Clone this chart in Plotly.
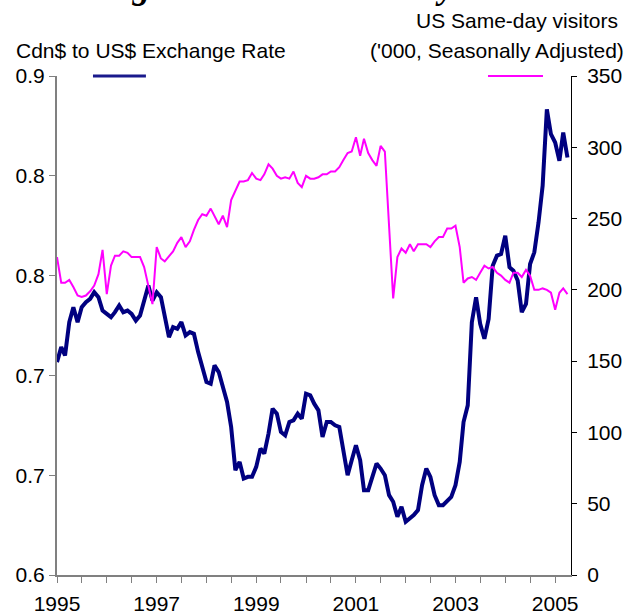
import pandas as pd
import plotly.graph_objects as go

# monthly series, Jan 1995 .. Apr 2005
start_month = "1995-01-01"

exchange_rate = [
    0.728, 0.737, 0.732, 0.752, 0.761, 0.752, 0.761, 0.764, 0.766, 0.770, 0.767, 0.759,
    0.757, 0.755, 0.758, 0.762, 0.758, 0.759, 0.757, 0.753, 0.756, 0.764, 0.774, 0.765,
    0.770, 0.767, 0.755, 0.743, 0.749, 0.748, 0.752, 0.744, 0.746, 0.745, 0.734, 0.725,
    0.716, 0.715, 0.726, 0.722, 0.714, 0.704, 0.689, 0.663, 0.668, 0.658, 0.659, 0.659,
    0.665, 0.676, 0.673, 0.685, 0.700, 0.697, 0.686, 0.684, 0.692, 0.693, 0.697, 0.694,
    0.709, 0.708, 0.703, 0.699, 0.683, 0.692, 0.692, 0.690, 0.689, 0.675, 0.660, 0.669,
    0.678, 0.669, 0.651, 0.651, 0.659, 0.667, 0.664, 0.660, 0.648, 0.644, 0.635, 0.641,
    0.632, 0.634, 0.636, 0.639, 0.654, 0.664, 0.659, 0.648, 0.642, 0.642, 0.645, 0.647,
    0.654, 0.668, 0.692, 0.702, 0.752, 0.767, 0.751, 0.742, 0.754, 0.786, 0.792, 0.793,
    0.804, 0.785, 0.783, 0.777, 0.758, 0.763, 0.787, 0.794, 0.812, 0.834, 0.880, 0.865,
    0.860, 0.849, 0.866, 0.851,
]

visitors = [
    223, 205, 205, 207, 202, 196, 195, 196, 199, 203, 211, 228,
    197, 217, 224, 224, 227, 226, 223, 223, 223, 216, 203, 190,
    230, 222, 220, 224, 227, 233, 237, 230, 234, 242, 249, 253,
    252, 257, 252, 246, 252, 244, 263, 270, 276, 276, 277, 282,
    278, 277, 281, 288, 285, 280, 278, 279, 278, 283, 275, 272,
    280, 278, 278, 279, 281, 281, 283, 283, 286, 291, 296, 297,
    307, 294, 306, 296, 291, 287, 301, 297, 246, 194, 223, 229,
    226, 232, 227, 232, 232, 232, 230, 234, 237, 237, 243, 243,
    245, 230, 205, 208, 209, 207, 212, 217, 215, 216, 212, 210,
    207, 205, 212, 212, 209, 214, 210, 200, 200, 201, 200, 198,
    186, 198, 201, 197,
]

x_tick_years = [1995, 1995.5, 1996, 1996.5, 1997, 1997.5, 1998, 1998.5, 1999, 1999.5,
                2000, 2000.5, 2001, 2001.5, 2002, 2002.5, 2003, 2003.5, 2004, 2004.5, 2005]
x_tick_labels = ["1995", "", "", "", "1997", "", "", "", "1999", "", "",
                 "", "2001", "", "", "", "2003", "", "", "", "2005"]

left_tick_values = [0.6, 0.66, 0.72, 0.78, 0.84, 0.9]
left_tick_labels = ["0.6", "0.7", "0.7", "0.8", "0.8", "0.9"]
right_tick_values = [0, 50, 100, 150, 200, 250, 300, 350]

months = pd.date_range(start_month, periods=len(exchange_rate), freq="MS")
tick_dates = [pd.Timestamp(int(y), 1 if y == int(y) else 7, 1) for y in x_tick_years]

SANS = "Liberation Sans, Arial, sans-serif"
NAVY = "#000080"
MAGENTA = "#FF00FF"

fig = go.Figure()
fig.add_trace(go.Scatter(x=months, y=exchange_rate, mode="lines",
                         line=dict(color=NAVY, width=4), yaxis="y"))
fig.add_trace(go.Scatter(x=months, y=visitors, mode="lines",
                         line=dict(color=MAGENTA, width=2), yaxis="y2"))

fig.update_layout(
    width=633, height=614,
    margin=dict(l=57, r=62, t=76, b=39),
    paper_bgcolor="white", plot_bgcolor="white",
    showlegend=False,
    font=dict(family=SANS, size=21, color="black"),
    xaxis=dict(
        range=["1995-01-01", "2005-04-27"],
        tickvals=tick_dates, ticktext=x_tick_labels,
        ticks="outside", ticklen=6, tickcolor="#808080",
        ticklabelstandoff=3, automargin=False,
        showline=True, linecolor="#808080", linewidth=1.5,
        showgrid=False, zeroline=False,
    ),
    yaxis=dict(
        range=[0.6, 0.9], automargin=False,
        tickvals=left_tick_values, ticktext=left_tick_labels,
        ticks="outside", ticklen=6, tickcolor="#808080",
        showline=True, linecolor="#808080", linewidth=2,
        showgrid=False, zeroline=False,
    ),
    yaxis2=dict(
        range=[0, 350], overlaying="y", side="right", automargin=False,
        tickvals=right_tick_values,
        ticks="outside", ticklen=5, tickcolor="black",
        ticklabelstandoff=6,
        showline=True, linecolor="black", linewidth=1,
        showgrid=False, zeroline=False,
    ),
    yaxis3=dict(
        range=[0, 350], overlaying="y", side="right", automargin=False,
        tickvals=right_tick_values, showticklabels=False,
        ticks="inside", ticklen=5, tickcolor="black",
        showline=False, showgrid=False, zeroline=False,
    ),
)

# legend keys drawn next to the axis titles
fig.add_shape(type="line", xref="paper", yref="paper", x0=0.070, x1=0.173, y0=1.0, y1=1.0,
              line=dict(color="#1a1a8c", width=3))
fig.add_shape(type="line", xref="paper", yref="paper", x0=0.8385, x1=0.9455, y0=1.0, y1=1.0,
              line=dict(color=MAGENTA, width=2))

fig.add_annotation(text="Cdn$ to US$ Exchange Rate", xref="paper", yref="paper",
                   x=-0.084, y=1.052, xanchor="left", yanchor="middle", showarrow=False,
                   font=dict(family=SANS, size=21))
fig.add_annotation(text="('000, Seasonally Adjusted)", xref="paper", yref="paper",
                   x=1.107, y=1.052, xanchor="right", yanchor="middle", showarrow=False,
                   font=dict(family=SANS, size=21))
fig.add_annotation(text="US Same-day visitors", xref="paper", yref="paper",
                   x=1.095, y=1.112, xanchor="right", yanchor="middle", showarrow=False,
                   font=dict(family=SANS, size=21))
# chart title, mostly cut off at the top edge as in the source
fig.add_annotation(text="<b><i>Exchange Rate and Same-day Travel</i></b>", xref="paper", yref="paper",
                   x=0.449, y=1.136, xanchor="center", yanchor="bottom", showarrow=False,
                   font=dict(family="Liberation Serif, Times New Roman, serif", size=35))

# drop the browser's default page margin so the figure sits at the window's corner
fig.write_html("out.html", config={"displayModeBar": False},
               post_script="document.body.style.margin='0';")
